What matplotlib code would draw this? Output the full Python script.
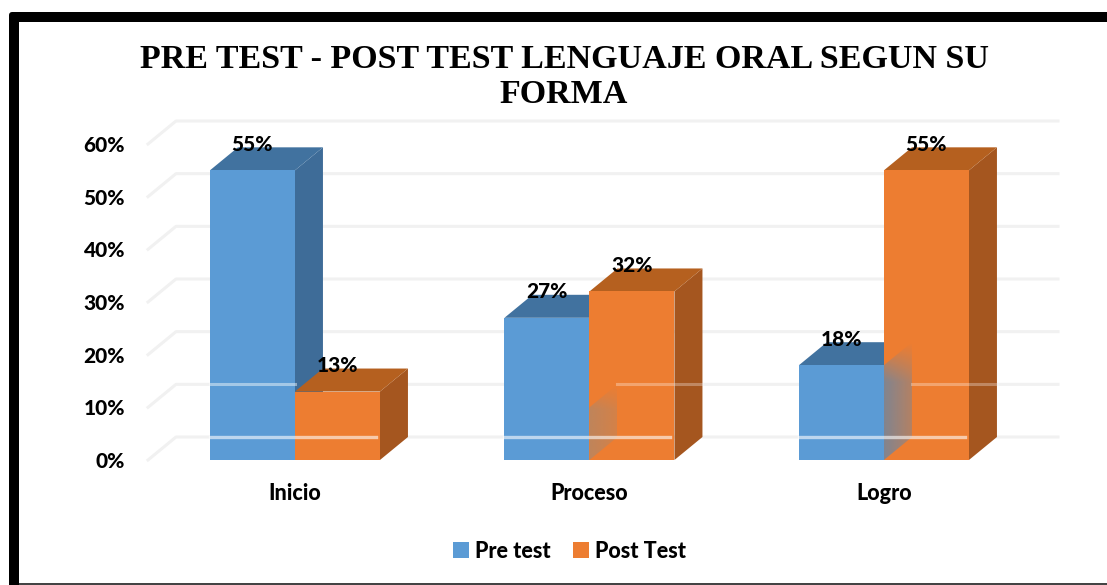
import numpy as np
import matplotlib
matplotlib.use("Agg")
import matplotlib.pyplot as plt
from matplotlib.patches import Polygon, Rectangle, FancyBboxPatch

categories = ["Inicio", "Proceso", "Logro"]
pre_test = [55, 27, 18]
post_test = [13, 32, 55]
y_ticks = [0, 10, 20, 30, 40, 50, 60]
title = "PRE TEST - POST TEST LENGUAJE ORAL SEGUN SU\nFORMA"
series_names = ["Pre test", "Post Test"]

W, H = 1107, 585
PX_X = 294.5          # pixels per category
PX_Y = 316 / 60       # pixels per percent
BAR_W = 85 / PX_X
DX = 28 / PX_X        # depth offset
DY = 23 / PX_Y

PRE = dict(front="#5B9BD5", side="#3E6C98", top="#41729F")
POST = dict(front="#ED7D31", side="#A5561F", top="#B5601F")
GRID = "#F1F1F1"
LABEL_FONT = "Lato"
LABEL_WEIGHT = "black"
LABEL_SIZE = 15

fig = plt.figure(figsize=(W / 100, H / 100), dpi=100, facecolor="white")


def fx(p):
    return p / W


def fy(p):
    return 1 - p / H


# Frame
fig.add_artist(FancyBboxPatch((fx(9), fy(700)), fx(1300), 688 / H, transform=fig.transFigure,
                              boxstyle="round,pad=0,rounding_size=0.003", fc="black", ec="none",
                              mutation_aspect=W / H, zorder=-3))
fig.add_artist(Rectangle((fx(19), 0), 1, fy(22), transform=fig.transFigure, fc="white", ec="none", zorder=-2))
fig.add_artist(Rectangle((fx(19), 0), 1, 1.8 / H, transform=fig.transFigure, fc="#444444", ec="none", zorder=-1))

ax = fig.add_axes([fx(148), fy(460), (1058 - 148) / W, 316 / H])
ax.patch.set_visible(False)
for s in ax.spines.values():
    s.set_visible(False)

x = np.arange(len(categories))
xr = 2.591

# Gridlines: floor diagonal + back wall
for v in y_ticks:
    ax.plot([-0.499, -0.499 + DX, xr], [v, v + DY, v + DY], color=GRID, lw=2.2, zorder=1, clip_on=False,
            solid_joinstyle="round")


def bar3d(x0, v, c, z):
    ax.bar(x0, v, BAR_W, align="edge", color=c["front"], zorder=z + 0.3)
    ax.add_patch(Polygon([(x0 + BAR_W, 0), (x0 + BAR_W + DX, DY), (x0 + BAR_W + DX, v + DY), (x0 + BAR_W, v)],
                         fc=c["side"], ec="none", zorder=z + 0.1, clip_on=False))
    ax.add_patch(Polygon([(x0, v), (x0 + DX, v + DY), (x0 + BAR_W + DX, v + DY), (x0 + BAR_W, v)],
                         fc=c["top"], ec="none", zorder=z + 0.2, clip_on=False))


for xi, a, b in zip(x, pre_test, post_test):
    bar3d(xi - BAR_W, a, PRE, 2)
    bar3d(xi, b, POST, 3)

# Semi-transparent blue side faces showing through the orange bars
ghost_tops = [0, 10, 18]
ghost_strength = [0, 0.6, 0.85]
for xi, gt, gs in zip(x, ghost_tops, ghost_strength):
    if gt == 0:
        continue
    ny, nx = 60, 30
    rgba = np.zeros((ny, nx, 4))
    rgba[..., :3] = matplotlib.colors.to_rgb("#6F86A0") if gs > 0.7 else matplotlib.colors.to_rgb("#A08A78")
    fade_x = np.linspace(1, 0.55, nx)[None, :]
    fade_y = np.clip(np.linspace(0, 1, ny) * 3, 0, 1)[:, None]  # row 0 is the top with origin upper
    rgba[..., 3] = gs * fade_x * fade_y
    im = ax.imshow(rgba, extent=(xi, xi + DX, 0, gt + DY), aspect="auto", origin="upper", zorder=4, clip_on=True)
    im.set_clip_path(Polygon([(xi, 0), (xi + DX, DY), (xi + DX, gt + DY), (xi, gt)], transform=ax.transData))

# Pale lines of the back wall running over the bars
for i, xi in enumerate(x):
    ax.plot([xi - BAR_W, xi + BAR_W * 0.95], [DY, DY], color="white", alpha=0.6, lw=2.4, zorder=5)
    if post_test[i] > 10 + DY:
        ax.plot([xi + DX, xi + BAR_W + DX], [10 + DY, 10 + DY], color="white", alpha=0.3, lw=2.2, zorder=5)
    elif pre_test[i] > 10 + DY:
        ax.plot([xi - BAR_W, xi], [10 + DY, 10 + DY], color="white", alpha=0.45, lw=2.2, zorder=5)

# Data labels
for xi, a, b in zip(x, pre_test, post_test):
    ax.text(xi - BAR_W / 2, a + 26 / PX_Y, f"{a}%", ha="center", va="center", fontsize=LABEL_SIZE,
            fontweight=LABEL_WEIGHT, family=LABEL_FONT, color="black", zorder=7, clip_on=False)
    ax.text(xi + BAR_W / 2, b + 26 / PX_Y, f"{b}%", ha="center", va="center", fontsize=LABEL_SIZE,
            fontweight=LABEL_WEIGHT, family=LABEL_FONT, color="black", zorder=7, clip_on=False)

ax.set_xlim(-0.499, xr)
ax.set_ylim(0, 60)
ax.set_yticks(y_ticks)
ax.set_yticklabels([f"{v}%" for v in y_ticks], fontsize=LABEL_SIZE, fontweight=LABEL_WEIGHT, family=LABEL_FONT)
ax.set_xticks(x)
ax.set_xticklabels(categories, fontsize=LABEL_SIZE + 0.5, fontweight=LABEL_WEIGHT, family=LABEL_FONT)
ax.tick_params(axis="both", length=0)
ax.tick_params(axis="y", pad=16.5)
ax.tick_params(axis="x", pad=16.5)

# Legend
handles = [Rectangle((0, 0), 1, 1, fc=PRE["front"]), Rectangle((0, 0), 1, 1, fc=POST["front"])]
fig.legend(handles, series_names, loc="center", bbox_to_anchor=(fx(569.5), fy(551)), ncol=2, frameon=False,
           prop=dict(family=LABEL_FONT, weight=LABEL_WEIGHT, size=LABEL_SIZE + 0.5), handlelength=0.75,
           handleheight=0.72, handletextpad=0.3, columnspacing=1.0, borderpad=0, borderaxespad=0)

fig.text(fx(564), fy(77), title, ha="center", va="center", family="Liberation Serif", fontweight="bold",
         fontsize=24.5, linespacing=1.17, color="black")

fig.savefig("out.png", dpi=100)
